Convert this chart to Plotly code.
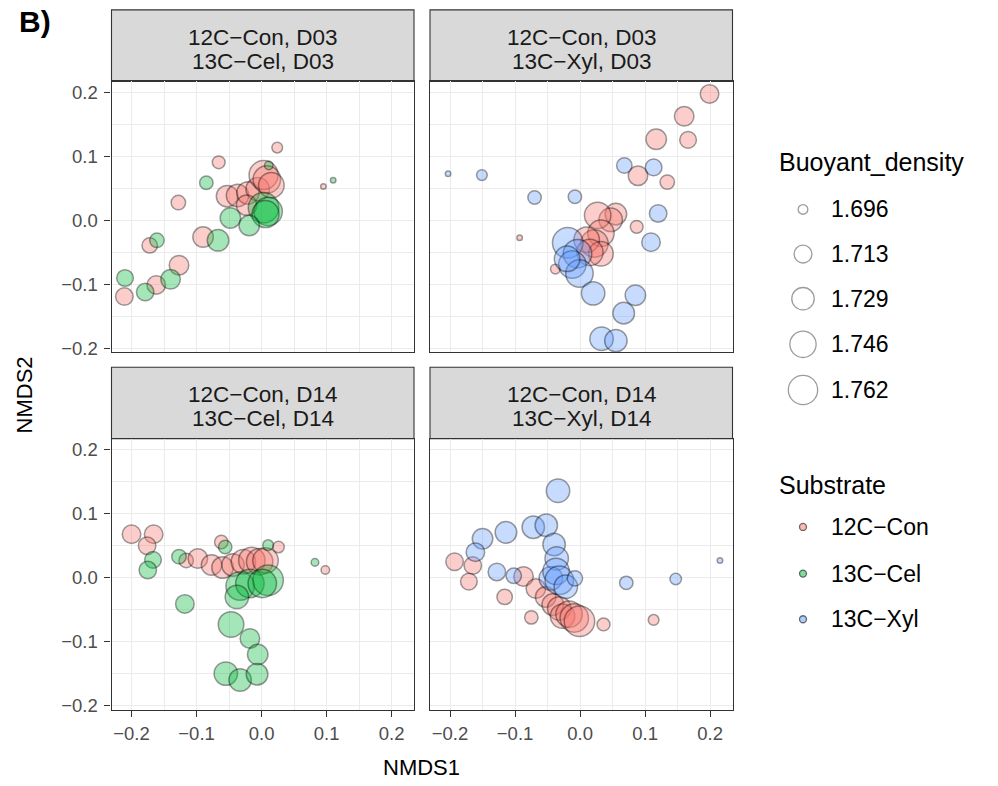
import numpy as np
import plotly.graph_objects as go

# ---------------- data ----------------
substrates = ["12C−Con", "13C−Cel", "13C−Xyl"]
strip_labels = [
    ("12C−Con, D03", "13C−Cel, D03"),
    ("12C−Con, D03", "13C−Xyl, D03"),
    ("12C−Con, D14", "13C−Cel, D14"),
    ("12C−Con, D14", "13C−Xyl, D14"),
]
size_breaks = [1.696, 1.713, 1.729, 1.746, 1.762]
axis_ticks = [-0.2, -0.1, 0.0, 0.1, 0.2]

# Panel 1: D03, 12C-Con vs 13C-Cel
p1_con_x = [0.024, -0.066, 0.095, -0.128, -0.053, -0.037, -0.021, -0.006, 0.003, 0.008, 0.015, -0.023, -0.090, -0.172, -0.127, -0.162, -0.211]
p1_con_y = [0.114, 0.091, 0.053, 0.028, 0.038, 0.039, 0.043, 0.049, 0.071, 0.064, 0.055, 0.024, -0.026, -0.039, -0.070, -0.101, -0.119]
p1_con_bd = [1.696, 1.699, 1.693, 1.702, 1.722, 1.725, 1.725, 1.729, 1.755, 1.747, 1.738, 1.718, 1.718, 1.704, 1.715, 1.712, 1.709]
p1_lab_x = [0.011, -0.085, 0.110, 0.003, 0.010, 0.006, -0.048, -0.019, -0.067, -0.161, -0.140, -0.179, -0.210]
p1_lab_y = [0.086, 0.059, 0.063, 0.020, 0.014, 0.010, 0.004, -0.008, -0.031, -0.031, -0.092, -0.112, -0.090]
p1_lab_bd = [1.694, 1.700, 1.693, 1.763, 1.752, 1.745, 1.718, 1.718, 1.722, 1.702, 1.715, 1.709, 1.707]

# Panel 2: D03, 12C-Con vs 13C-Xyl
p2_con_x = [0.199, 0.160, 0.117, 0.166, 0.089, 0.134, 0.087, -0.093, -0.038, 0.055, 0.047, 0.027, 0.032, 0.022, 0.010, 0.032, 0.015]
p2_con_y = [0.198, 0.163, 0.127, 0.126, 0.070, 0.060, -0.010, -0.027, -0.076, 0.010, 0.001, 0.008, -0.020, -0.036, -0.030, -0.052, -0.050]
p2_con_bd = [1.712, 1.715, 1.718, 1.707, 1.715, 1.702, 1.699, 1.693, 1.695, 1.722, 1.729, 1.742, 1.742, 1.747, 1.738, 1.734, 1.742]
p2_lab_x = [0.068, 0.113, -0.203, -0.151, -0.070, -0.008, 0.120, 0.109, -0.019, -0.004, -0.012, -0.001, -0.020, 0.020, 0.085, 0.067, 0.033, 0.055]
p2_lab_y = [0.086, 0.083, 0.073, 0.071, 0.036, 0.037, 0.011, -0.034, -0.035, -0.052, -0.069, -0.083, -0.060, -0.114, -0.117, -0.145, -0.185, -0.188]
p2_lab_bd = [1.704, 1.707, 1.693, 1.696, 1.700, 1.700, 1.709, 1.712, 1.763, 1.752, 1.747, 1.747, 1.738, 1.729, 1.718, 1.722, 1.729, 1.725]

# Panel 3: D14, 12C-Con vs 13C-Cel
p3_con_x = [-0.200, -0.166, -0.176, -0.116, -0.098, -0.077, -0.060, -0.044, -0.028, -0.015, -0.003, 0.006, -0.062, 0.026, 0.098]
p3_con_y = [0.068, 0.068, 0.050, 0.027, 0.030, 0.020, 0.016, 0.020, 0.025, 0.027, 0.025, 0.027, 0.056, 0.048, 0.012]
p3_con_bd = [1.712, 1.712, 1.709, 1.702, 1.715, 1.718, 1.722, 1.725, 1.733, 1.742, 1.742, 1.738, 1.700, 1.697, 1.694]
p3_lab_x = [-0.167, -0.175, -0.127, -0.056, 0.010, 0.082, -0.033, -0.018, 0.010, 0.001, -0.038, -0.118, -0.047, -0.018, -0.006, -0.055, -0.033, -0.007]
p3_lab_y = [0.028, 0.012, 0.033, 0.048, 0.051, 0.024, -0.013, -0.009, -0.004, -0.009, -0.030, -0.041, -0.073, -0.095, -0.120, -0.150, -0.160, -0.151]
p3_lab_bd = [1.707, 1.709, 1.702, 1.700, 1.696, 1.6935, 1.752, 1.752, 1.763, 1.752, 1.729, 1.712, 1.738, 1.715, 1.718, 1.729, 1.725, 1.722]

# Panel 4: D14, 12C-Con vs 13C-Xyl
p4_con_x = [-0.193, -0.165, -0.171, -0.116, -0.087, -0.068, -0.053, -0.042, -0.032, -0.027, -0.017, -0.009, -0.001, -0.075, 0.036, 0.113]
p4_con_y = [0.025, 0.019, -0.006, -0.030, 0.002, -0.017, -0.030, -0.042, -0.048, -0.060, -0.057, -0.063, -0.068, -0.062, -0.073, -0.066]
p4_con_bd = [1.709, 1.709, 1.707, 1.704, 1.715, 1.715, 1.718, 1.722, 1.729, 1.733, 1.742, 1.752, 1.763, 1.700, 1.699, 1.696]
p4_lab_x = [-0.034, -0.072, -0.052, -0.114, -0.150, -0.161, -0.040, -0.036, -0.045, -0.037, -0.032, -0.022, -0.008, -0.128, -0.102, 0.071, 0.147, 0.215]
p4_lab_y = [0.136, 0.079, 0.082, 0.071, 0.061, 0.040, 0.052, 0.030, -0.001, 0.010, -0.004, -0.014, -0.001, 0.009, 0.003, -0.008, -0.002, 0.027]
p4_lab_bd = [1.729, 1.725, 1.725, 1.722, 1.718, 1.712, 1.725, 1.729, 1.729, 1.742, 1.752, 1.729, 1.704, 1.709, 1.704, 1.700, 1.697, 1.693]

# ---------------- styling helpers ----------------
fills = {"12C−Con": "rgba(248,118,109,0.5)", "13C−Cel": "rgba(0,186,56,0.5)", "13C−Xyl": "rgba(97,156,255,0.5)"}
OUTLINE = "rgba(0,0,0,0.55)"
LW = 1.5
FONT = "Liberation Sans, Arial, sans-serif"
BD_MIN, BD_MAX = 1.693, 1.763


def size_px(bd):
    t = np.clip((np.asarray(bd, dtype=float) - BD_MIN) / (BD_MAX - BD_MIN), 0, 1)
    return 5.5 + 25 * np.sqrt(t)


W, H = 998, 786
xdom = [(111.5 / W, 414 / W), (430 / W, 732.5 / W)]
ydom_top = (431 / H, 704 / H)
ydom_bot = (71 / H, 344 / H)

panels = [
    (p1_con_x, p1_con_y, p1_con_bd, p1_lab_x, p1_lab_y, p1_lab_bd, "13C−Cel"),
    (p2_con_x, p2_con_y, p2_con_bd, p2_lab_x, p2_lab_y, p2_lab_bd, "13C−Xyl"),
    (p3_con_x, p3_con_y, p3_con_bd, p3_lab_x, p3_lab_y, p3_lab_bd, "13C−Cel"),
    (p4_con_x, p4_con_y, p4_con_bd, p4_lab_x, p4_lab_y, p4_lab_bd, "13C−Xyl"),
]

fig = go.Figure()
for i, (cx, cy, cb, lx, ly, lb, lab) in enumerate(panels):
    suf = "" if i == 0 else str(i + 1)
    for xs, ys, bds, sub in [(cx, cy, cb, "12C−Con"), (lx, ly, lb, lab)]:
        fig.add_trace(go.Scatter(
            x=xs, y=ys, mode="markers", showlegend=False, hoverinfo="skip",
            xaxis="x" + suf, yaxis="y" + suf,
            marker=dict(size=size_px(bds), color=fills[sub],
                        line=dict(color=OUTLINE, width=LW)),
        ))

axis_common = dict(
    showgrid=True, gridcolor="#EBEBEB", gridwidth=1.1, zeroline=False,
    showline=True, mirror=True, linecolor="#333333", linewidth=1.1,
    tickvals=axis_ticks, tickformat=".1f",
    minor=dict(showgrid=True, gridcolor="#EBEBEB", gridwidth=0.55, tick0=0.05, dtick=0.1),
    tickfont=dict(family=FONT, size=18.5, color="#4D4D4D"),
    tickcolor="#333333", tickwidth=1.1, ticklen=6,
)
layout = dict(
    width=W, height=H, margin=dict(l=0, r=0, t=0, b=0),
    paper_bgcolor="white", plot_bgcolor="white", showlegend=False,
    font=dict(family=FONT, color="#000000"),
)
for i in range(4):
    suf = "" if i == 0 else str(i + 1)
    col, row = i % 2, i // 2
    xa = dict(axis_common, range=[-0.2308, 0.2343], domain=list(xdom[col]),
              anchor="y" + suf)
    ya = dict(axis_common, range=[-0.2062, 0.2176],
              domain=list(ydom_top if row == 0 else ydom_bot), anchor="x" + suf)
    if row == 0:
        xa.update(showticklabels=False, ticks="")
    else:
        xa.update(ticks="outside", ticklabelstandoff=1)
    if col == 1:
        ya.update(showticklabels=False, ticks="")
    else:
        ya.update(ticks="outside", ticklabelstandoff=3)
    layout["xaxis" + suf] = xa
    layout["yaxis" + suf] = ya

# legend area axis (pixel coordinates)
layout["xaxis5"] = dict(domain=[763.5 / W, 1.0], range=[763.5, 998], visible=False, anchor="y5")
layout["yaxis5"] = dict(domain=[0, 1], range=[786, 0], visible=False, anchor="x5")
fig.update_layout(**layout)

shapes, annotations = [], []
strip_rows = [(10, 82), (370, 442)]  # pixel top/bottom
for i, (l1, l2) in enumerate(strip_labels):
    col, row = i % 2, i // 2
    x0, x1 = xdom[col]
    t, b = strip_rows[row]
    shapes.append(dict(type="rect", xref="paper", yref="paper", x0=x0, x1=x1,
                       y0=(H - b) / H, y1=(H - t) / H,
                       fillcolor="#D9D9D9", line=dict(color="#333333", width=1.1), layer="below"))
    for txt, yy in [(l1, t + 28), (l2, t + 52)]:
        annotations.append(dict(xref="paper", yref="paper", x=(x0 + x1) / 2, y=(H - yy) / H,
                                text=txt, showarrow=False, xanchor="center", yanchor="middle",
                                font=dict(family=FONT, size=22.5, color="#1A1A1A")))

# size legend
leg_size_y = [211, 256, 301, 347, 393]
fig.add_trace(go.Scatter(
    x=[803] * len(size_breaks), y=leg_size_y, xaxis="x5", yaxis="y5", mode="markers",
    showlegend=False, hoverinfo="skip", cliponaxis=False,
    marker=dict(size=size_px(size_breaks) - 1, color="rgba(0,0,0,0)", line=dict(color=OUTLINE, width=1.3)),
))
for b, yy in zip(size_breaks, leg_size_y):
    annotations.append(dict(xref="x5", yref="y5", x=829, y=yy, text=f"{b:.3f}", showarrow=False,
                            xanchor="left", yanchor="middle", font=dict(family=FONT, size=23)))
annotations.append(dict(xref="x5", yref="y5", x=777, y=163, text="Buoyant_density", showarrow=False,
                        xanchor="left", yanchor="middle", font=dict(family=FONT, size=25)))

# substrate legend
leg_sub_y = [531, 578, 624]
fig.add_trace(go.Scatter(
    x=[803] * 3, y=leg_sub_y, xaxis="x5", yaxis="y5", mode="markers",
    showlegend=False, hoverinfo="skip", cliponaxis=False,
    marker=dict(size=7, color=[fills[s] for s in substrates], line=dict(color=OUTLINE, width=1.3)),
))
for s, yy in zip(substrates, leg_sub_y):
    annotations.append(dict(xref="x5", yref="y5", x=829, y=yy, text=s, showarrow=False,
                            xanchor="left", yanchor="middle", font=dict(family=FONT, size=23)))
annotations.append(dict(xref="x5", yref="y5", x=777, y=489, text="Substrate", showarrow=False,
                        xanchor="left", yanchor="middle", font=dict(family=FONT, size=25)))

# axis titles and tag
annotations.append(dict(xref="paper", yref="paper", x=421.75 / W, y=(H - 773) / H, text="NMDS1",
                        showarrow=False, xanchor="center", yanchor="middle", font=dict(family=FONT, size=22)))
annotations.append(dict(xref="paper", yref="paper", x=24 / W, y=(H - 398.5) / H, text="NMDS2",
                        showarrow=False, xanchor="center", yanchor="middle", textangle=-90,
                        font=dict(family=FONT, size=22)))
annotations.append(dict(xref="paper", yref="paper", x=17 / W, y=(H - 22) / H, text="<b>B)</b>",
                        showarrow=False, xanchor="left", yanchor="middle", font=dict(family=FONT, size=30)))

fig.update_layout(shapes=shapes, annotations=annotations)
fig.write_html("out.html", config={"displayModeBar": False},
               post_script="document.body.style.margin='0px';document.body.style.padding='0px';")
